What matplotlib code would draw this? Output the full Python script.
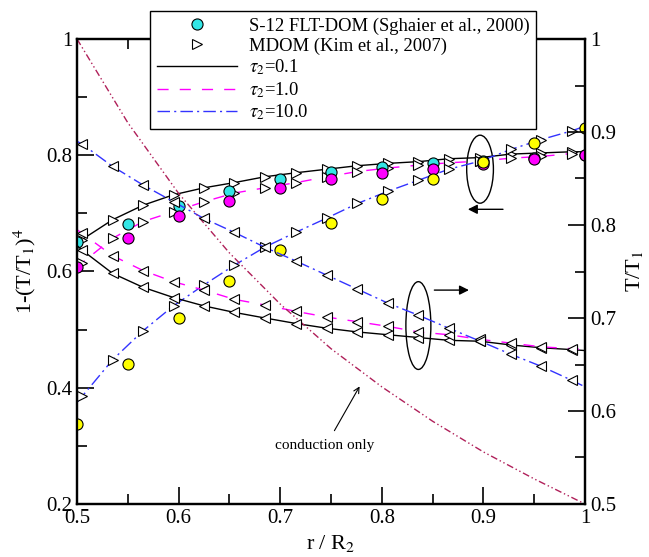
import matplotlib
matplotlib.use('Agg')
import matplotlib.pyplot as plt
from matplotlib.patches import Ellipse
from matplotlib.ticker import FuncFormatter, MultipleLocator

plt.rcParams['font.family'] = ['Liberation Serif', 'DejaVu Serif']
plt.rcParams['mathtext.fontset'] = 'stix'

# S-12 FLT-DOM (circles), left axis 1-(T/T1)^4
flt_x = [0.5, 0.55, 0.6, 0.65, 0.7, 0.75, 0.8, 0.85, 0.9, 0.95, 1.0]
flt_tau01 = [0.651, 0.682, 0.713, 0.739, 0.760, 0.772, 0.780, 0.786, 0.790, 0.795, 0.800]
flt_tau1 = [0.607, 0.657, 0.695, 0.722, 0.743, 0.759, 0.769, 0.776, 0.785, 0.794, 0.800]
flt_tau10 = [0.337, 0.441, 0.520, 0.584, 0.637, 0.683, 0.724, 0.759, 0.789, 0.821, 0.847]

# MDOM (triangles)
mdom_x = [0.505, 0.535, 0.565, 0.595, 0.625, 0.655, 0.685, 0.716, 0.746,
          0.776, 0.806, 0.836, 0.866, 0.897, 0.927, 0.957, 0.987]
# emissive power, left axis
mdom_e01 = [0.655, 0.689, 0.714, 0.732, 0.744, 0.753, 0.763, 0.770, 0.776,
            0.782, 0.786, 0.789, 0.794, 0.796, 0.802, 0.804, 0.806]
mdom_e1 = [0.615, 0.657, 0.686, 0.703, 0.720, 0.735, 0.744, 0.753, 0.763,
           0.772, 0.778, 0.783, 0.787, 0.790, 0.795, 0.798, 0.803]
mdom_e10 = [0.385, 0.448, 0.498, 0.541, 0.577, 0.611, 0.642, 0.668, 0.692,
            0.717, 0.738, 0.757, 0.776, 0.790, 0.810, 0.827, 0.842]
# temperature T/T1, right axis
mdom_t01 = [0.773, 0.748, 0.733, 0.722, 0.713, 0.706, 0.700, 0.694, 0.689,
            0.685, 0.682, 0.679, 0.676, 0.675, 0.671, 0.668, 0.666]
mdom_t1 = [0.791, 0.767, 0.751, 0.739, 0.730, 0.720, 0.714, 0.707, 0.701,
           0.696, 0.691, 0.685, 0.682, 0.677, 0.673, 0.669, 0.667]
mdom_t10 = [0.887, 0.863, 0.843, 0.825, 0.807, 0.792, 0.776, 0.761, 0.746,
            0.731, 0.716, 0.703, 0.689, 0.675, 0.661, 0.648, 0.633]

# curves
line_x = [0.5, 0.505, 0.535, 0.565, 0.595, 0.625, 0.655, 0.685, 0.716, 0.746,
          0.776, 0.806, 0.836, 0.866, 0.897, 0.927, 0.957, 0.987, 1.0]
line_e01 = [0.645] + mdom_e01 + [0.806]
line_e1 = [0.605] + mdom_e1 + [0.803]
line_e10 = [0.375] + mdom_e10 + [0.850]
line_t01 = [0.778] + mdom_t01 + [0.665]
line_t1 = [0.795] + mdom_t1 + [0.666]
line_t10 = [0.890] + mdom_t10 + [0.626]

# conduction only, right axis
cond_x = [0.5, 0.55, 0.6, 0.65, 0.7, 0.75, 0.8, 0.85, 0.9, 0.95, 1.0]
cond_t = [1.0, 0.91, 0.834, 0.77, 0.715, 0.667, 0.626, 0.589, 0.556, 0.527, 0.5]

W, H = 649, 557
fig = plt.figure(figsize=(W/100, H/100), dpi=100)
ax = fig.add_axes([77/W, 1-504/H, (585-77)/W, (504-39)/H])
ax2 = ax.twinx()

dash = (0, (8, 8))
dashdot = (0, (9, 3, 1.5, 3))
l1, = ax.plot(line_x, line_e01, color='black', lw=1)
l2, = ax.plot(line_x, line_e1, color='#ff00ff', lw=1, ls=dash)
l3, = ax.plot(line_x, line_e10, color='#3333ff', lw=1, ls=dashdot)
ax2.plot(line_x, line_t01, color='black', lw=1)
ax2.plot(line_x, line_t1, color='#ff00ff', lw=1, ls=dash)
ax2.plot(line_x, line_t10, color='#3333ff', lw=1, ls=dashdot)
ax2.plot(cond_x, cond_t, color='#b0205a', lw=1, ls=(0, (5, 2, 1, 2, 1, 2)))

tri = dict(ls='none', mfc='white', mec='black', ms=7, mew=0.8)
m1, = ax.plot(mdom_x, mdom_e01, marker='>', **tri)
ax.plot(mdom_x, mdom_e1, marker='>', **tri)
ax.plot(mdom_x, mdom_e10, marker='>', **tri)
ax2.plot(mdom_x, mdom_t01, marker='<', **tri)
ax2.plot(mdom_x, mdom_t1, marker='<', **tri)
ax2.plot(mdom_x, mdom_t10, marker='<', **tri)

circ = dict(ls='none', marker='o', ms=8, mec='black', mew=0.8, zorder=5)
c1, = ax.plot(flt_x, flt_tau01, mfc='#33e6e6', **circ)
ax.plot(flt_x, flt_tau1, mfc='#ff00ff', **circ)
ax.plot(flt_x, flt_tau10, mfc='#ffff00', **circ)

ax.set_xlim(0.5, 1)
ax.set_ylim(0.2, 1)
ax2.set_ylim(0.5, 1)
fmt = FuncFormatter(lambda v, p: '%g' % round(v, 3))
ax.xaxis.set_major_locator(MultipleLocator(0.1))
ax.xaxis.set_minor_locator(MultipleLocator(0.05))
ax.yaxis.set_major_locator(MultipleLocator(0.2))
ax.yaxis.set_minor_locator(MultipleLocator(0.1))
ax2.yaxis.set_major_locator(MultipleLocator(0.1))
ax2.yaxis.set_minor_locator(MultipleLocator(0.05))
ax.xaxis.set_major_formatter(fmt)
ax.yaxis.set_major_formatter(fmt)
ax2.yaxis.set_major_formatter(fmt)
ax.tick_params(which='both', direction='in', top=True, right=False, labelsize=15, width=1.2)
ax.tick_params(which='major', length=12)
ax.tick_params(which='minor', length=7)
ax2.tick_params(which='both', direction='in', labelsize=15, width=1.2)
ax2.tick_params(which='major', length=12)
ax2.tick_params(which='minor', length=7)
for a in (ax, ax2):
    for s in a.spines.values():
        s.set_linewidth(1.6)

ax.set_xlabel('r / R$_2$', fontsize=16, labelpad=4)
ax.set_ylabel('1-(T/T$_1$)$^4$', fontsize=16, labelpad=6)
ax2.set_ylabel('T/T$_1$', fontsize=16, labelpad=6)

# annotations
ax.add_patch(Ellipse((0.8967, 0.776), 0.0263, 0.117, fill=False, lw=1, ec='black'))
ax.annotate('', xy=(0.882, 0.707), xytext=(0.922, 0.707),
            arrowprops=dict(arrowstyle='-|>', color='black', lw=1, mutation_scale=14))
ax.add_patch(Ellipse((0.836, 0.507), 0.0246, 0.151, fill=False, lw=1, ec='black'))
ax.annotate('', xy=(0.8885, 0.568), xytext=(0.849, 0.568),
            arrowprops=dict(arrowstyle='-|>', color='black', lw=1, mutation_scale=14))
ax.text(0.744, 0.3015, 'conduction only', ha='center', va='center', fontsize=11)
ax.annotate('', xy=(0.7795, 0.4065), xytext=(0.752, 0.322),
            arrowprops=dict(arrowstyle='->', color='black', lw=0.8))

leg = ax2.legend([c1, m1, l1, l2, l3],
                 ['S-12 FLT-DOM (Sghaier et al., 2000)', 'MDOM (Kim et al., 2007)',
                  r'$\tau_2$=0.1', r'$\tau_2$=1.0', r'$\tau_2$=10.0'],
                 loc='upper left', bbox_to_anchor=(150/W, 1-11/H),
                 bbox_transform=fig.transFigure, borderaxespad=0,
                 fontsize=13.4, handlelength=4.3, handletextpad=0.65,
                 labelspacing=0.15, borderpad=0.35, fancybox=False,
                 framealpha=1, edgecolor='black')
leg.get_frame().set_linewidth(1)

fig.savefig('out.png', dpi=100)
